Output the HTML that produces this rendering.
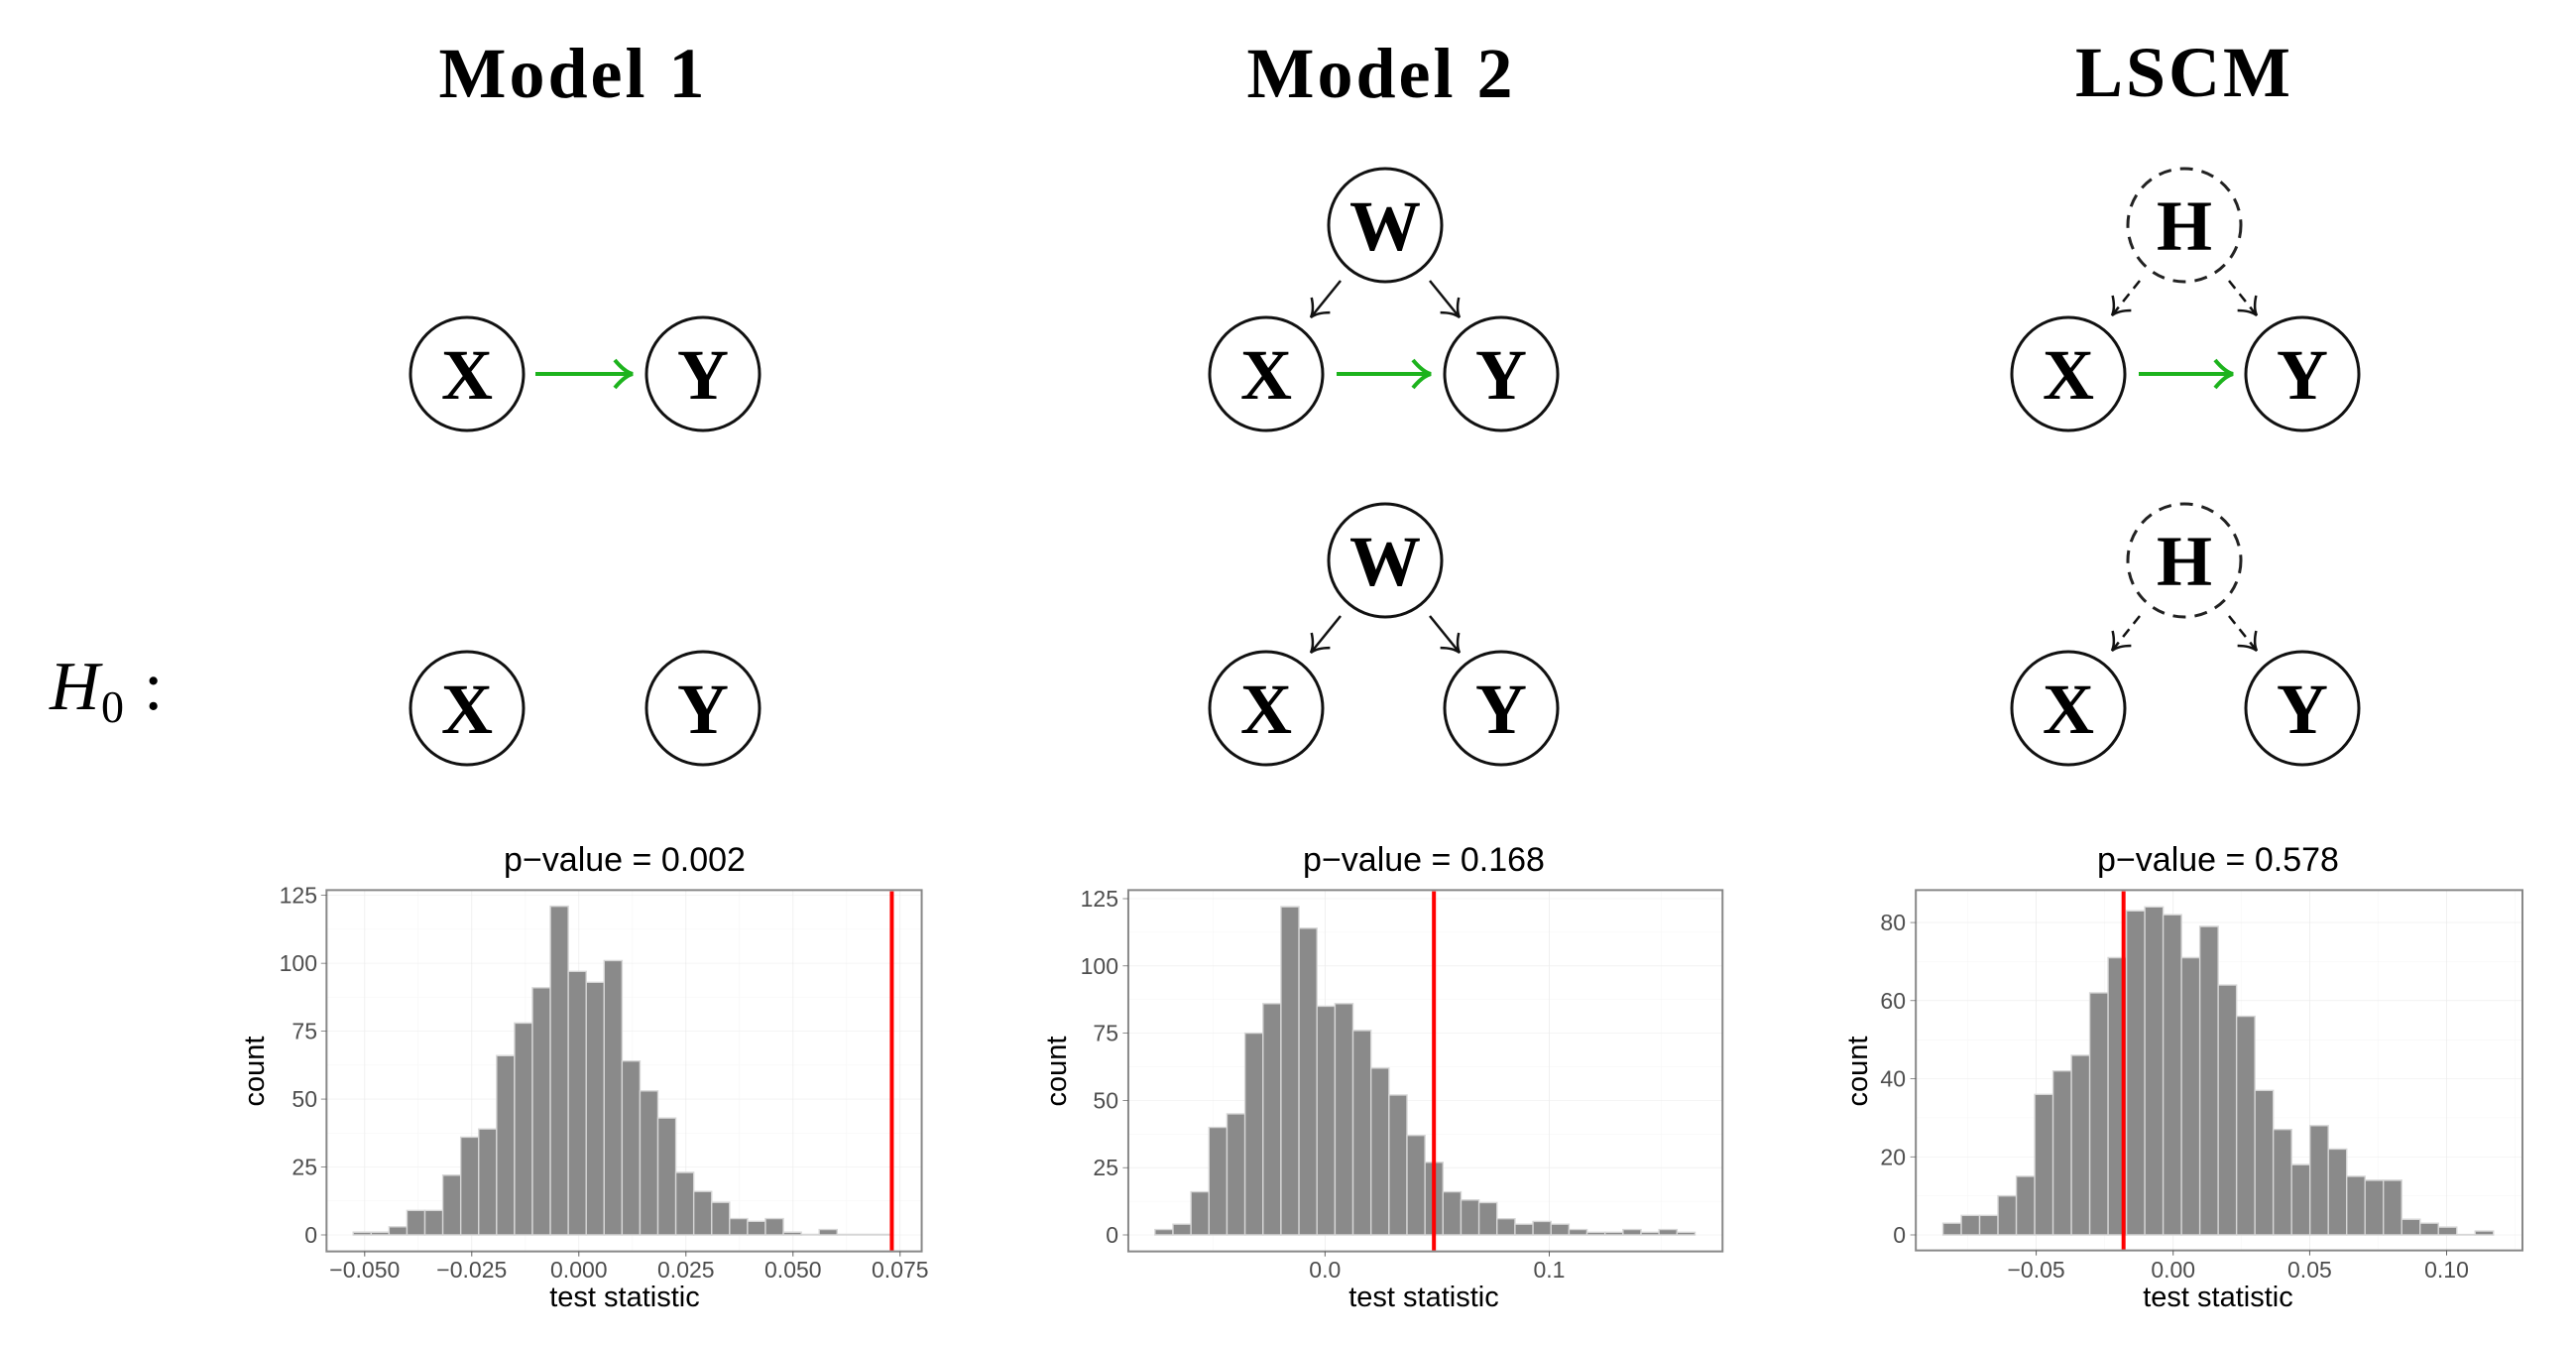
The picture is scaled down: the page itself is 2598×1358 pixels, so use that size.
<!DOCTYPE html>
<html><head><meta charset="utf-8"><style>
html,body{margin:0;padding:0;background:#fff;}
svg{display:block;}
.ttl{font-family:"Liberation Serif",serif;font-weight:bold;font-size:72px;fill:#000;text-anchor:middle;letter-spacing:3px;}
.nd{font-family:"Liberation Serif",serif;font-weight:bold;font-size:72px;fill:#000;text-anchor:middle;}
.pv{font-family:"Liberation Sans",sans-serif;font-size:34px;fill:#000;text-anchor:middle;}
.yt{font-family:"Liberation Sans",sans-serif;font-size:23px;fill:#4d4d4d;text-anchor:end;}
.xt{font-family:"Liberation Sans",sans-serif;font-size:23px;fill:#4d4d4d;text-anchor:middle;}
.ax{font-family:"Liberation Sans",sans-serif;font-size:29px;fill:#000;text-anchor:middle;}
.gM{stroke:#ebebeb;stroke-width:1.6;vector-effect:non-scaling-stroke;}
.gm{stroke:#f2f2f2;stroke-width:1;vector-effect:non-scaling-stroke;}
.bar rect{fill:#8a8a8a;stroke:#d6d6d6;stroke-width:1.4;vector-effect:non-scaling-stroke;}
.pb{fill:none;stroke:#888;stroke-width:2;vector-effect:non-scaling-stroke;}
.tk{stroke:#555;stroke-width:2;vector-effect:non-scaling-stroke;}
.red{stroke:#ff0000;stroke-width:4;vector-effect:non-scaling-stroke;}
</style></head><body>
<svg width="2598" height="1358" viewBox="0 0 2598 1358" xmlns="http://www.w3.org/2000/svg">
<defs>
<marker id="ag" markerUnits="userSpaceOnUse" markerWidth="40" markerHeight="40" refX="20" refY="20" orient="auto">
<path d="M2,6 Q12,18 20,20 Q12,22 2,34" fill="none" stroke="#1db31d" stroke-width="4"/>
</marker>
<marker id="ak" markerUnits="userSpaceOnUse" markerWidth="40" markerHeight="40" refX="20" refY="20" orient="auto">
<path d="M4,8 Q12,18 20,20 Q12,22 4,32" fill="none" stroke="#111" stroke-width="2.5"/>
</marker>
</defs>

<text class="ttl" x="578" y="98">Model 1</text>
<text class="ttl" x="1393" y="98">Model 2</text>
<text class="ttl" x="2203" y="97">LSCM</text>

<text x="50" y="715" font-family="Liberation Serif,serif" font-style="italic" font-size="70">H</text>
<text x="102" y="728" font-family="Liberation Serif,serif" font-size="46">0</text>
<text x="145" y="715" font-family="Liberation Serif,serif" font-size="70">:</text>

<g fill="#fff" stroke="#111" stroke-width="3">
<circle cx="471" cy="377" r="57"/><circle cx="709" cy="377" r="57"/>
<circle cx="471" cy="714" r="57"/><circle cx="709" cy="714" r="57"/>
<circle cx="1397" cy="227" r="57"/><circle cx="1277" cy="377" r="57"/><circle cx="1514" cy="377" r="57"/>
<circle cx="1397" cy="565" r="57"/><circle cx="1277" cy="714" r="57"/><circle cx="1514" cy="714" r="57"/>
<circle cx="2086" cy="377" r="57"/><circle cx="2322" cy="377" r="57"/>
<circle cx="2086" cy="714" r="57"/><circle cx="2322" cy="714" r="57"/>
</g>
<g fill="none" stroke="#222" stroke-width="3" stroke-dasharray="13,9">
<circle cx="2203" cy="227" r="57"/>
<circle cx="2203" cy="565" r="57"/>
</g>

<g stroke="#1db31d" stroke-width="4" fill="none">
<line x1="540" y1="377" x2="638" y2="377" marker-end="url(#ag)"/>
<line x1="1348" y1="377" x2="1443" y2="377" marker-end="url(#ag)"/>
<line x1="2157" y1="377" x2="2252" y2="377" marker-end="url(#ag)"/>
</g>
<g stroke="#111" stroke-width="2.5" fill="none">
<line x1="1352" y1="283" x2="1322" y2="320" marker-end="url(#ak)"/>
<line x1="1442" y1="283" x2="1472" y2="320" marker-end="url(#ak)"/>
<line x1="1352" y1="621" x2="1322" y2="658" marker-end="url(#ak)"/>
<line x1="1442" y1="621" x2="1472" y2="658" marker-end="url(#ak)"/>
</g>
<g stroke="#111" stroke-width="2.5" fill="none" stroke-dasharray="10,7">
<line x1="2158" y1="283" x2="2130" y2="318" marker-end="url(#ak)"/>
<line x1="2248" y1="283" x2="2276" y2="318" marker-end="url(#ak)"/>
<line x1="2158" y1="621" x2="2130" y2="656" marker-end="url(#ak)"/>
<line x1="2248" y1="621" x2="2276" y2="656" marker-end="url(#ak)"/>
</g>
<text class="nd" x="1397" y="252">W</text><text class="nd" x="1397" y="590">W</text>
<text class="nd" x="2203" y="252">H</text><text class="nd" x="2203" y="590">H</text>
<text class="nd" x="471" y="402">X</text><text class="nd" x="709" y="402">Y</text>
<text class="nd" x="471" y="739">X</text><text class="nd" x="709" y="739">Y</text>
<text class="nd" x="1277" y="402">X</text><text class="nd" x="1514" y="402">Y</text>
<text class="nd" x="1277" y="739">X</text><text class="nd" x="1514" y="739">Y</text>
<text class="nd" x="2086" y="402">X</text><text class="nd" x="2322" y="402">Y</text>
<text class="nd" x="2086" y="739">X</text><text class="nd" x="2322" y="739">Y</text>

<!-- Plot 1 -->
<g transform="translate(232,840) scale(0.4635,0.33333)">
<rect x="210" y="172" width="1295" height="1093" fill="#fff"/>
<g class="gm">
<line x1="409.5" y1="172" x2="409.5" y2="1265"/><line x1="642.5" y1="172" x2="642.5" y2="1265"/><line x1="875.5" y1="172" x2="875.5" y2="1265"/><line x1="1108.5" y1="172" x2="1108.5" y2="1265"/><line x1="1341.5" y1="172" x2="1341.5" y2="1265"/>
<line x1="210" y1="1112.3" x2="1505" y2="1112.3"/><line x1="210" y1="906.9" x2="1505" y2="906.9"/><line x1="210" y1="701.5" x2="1505" y2="701.5"/><line x1="210" y1="496.1" x2="1505" y2="496.1"/><line x1="210" y1="290.7" x2="1505" y2="290.7"/>
</g>
<g class="gM">
<line x1="293" y1="172" x2="293" y2="1265"/><line x1="526" y1="172" x2="526" y2="1265"/><line x1="759" y1="172" x2="759" y2="1265"/><line x1="992" y1="172" x2="992" y2="1265"/><line x1="1225" y1="172" x2="1225" y2="1265"/><line x1="1458" y1="172" x2="1458" y2="1265"/>
<line x1="210" y1="1215" x2="1505" y2="1215"/><line x1="210" y1="1009.6" x2="1505" y2="1009.6"/><line x1="210" y1="804.2" x2="1505" y2="804.2"/><line x1="210" y1="598.8" x2="1505" y2="598.8"/><line x1="210" y1="393.4" x2="1505" y2="393.4"/><line x1="210" y1="188" x2="1505" y2="188"/>
</g>
<g class="bar" transform="translate(268,1215) scale(39,-8.216)">
<rect x="0" y="0" width="1" height="1"/><rect x="1" y="0" width="1" height="1"/><rect x="2" y="0" width="1" height="3"/><rect x="3" y="0" width="1" height="9"/><rect x="4" y="0" width="1" height="9"/><rect x="5" y="0" width="1" height="22"/><rect x="6" y="0" width="1" height="36"/><rect x="7" y="0" width="1" height="39"/><rect x="8" y="0" width="1" height="66"/><rect x="9" y="0" width="1" height="78"/><rect x="10" y="0" width="1" height="91"/><rect x="11" y="0" width="1" height="121"/><rect x="12" y="0" width="1" height="97"/><rect x="13" y="0" width="1" height="93"/><rect x="14" y="0" width="1" height="101"/><rect x="15" y="0" width="1" height="64"/><rect x="16" y="0" width="1" height="53"/><rect x="17" y="0" width="1" height="43"/><rect x="18" y="0" width="1" height="23"/><rect x="19" y="0" width="1" height="16"/><rect x="20" y="0" width="1" height="12"/><rect x="21" y="0" width="1" height="6"/><rect x="22" y="0" width="1" height="5"/><rect x="23" y="0" width="1" height="6"/><rect x="24" y="0" width="1" height="1"/><rect x="25" y="0" width="1" height="0.2"/><rect x="26" y="0" width="1" height="2"/><rect x="27" y="0" width="3" height="0.2"/>
</g>
<line class="red" x1="1440" y1="176" x2="1440" y2="1262"/>
<rect class="pb" x="210" y="172" width="1295" height="1093"/>
<g class="tk">
<line x1="198" y1="1215" x2="210" y2="1215"/><line x1="198" y1="1009.6" x2="210" y2="1009.6"/><line x1="198" y1="804.2" x2="210" y2="804.2"/><line x1="198" y1="598.8" x2="210" y2="598.8"/><line x1="198" y1="393.4" x2="210" y2="393.4"/><line x1="198" y1="188" x2="210" y2="188"/>
<line x1="293" y1="1265" x2="293" y2="1280"/><line x1="526" y1="1265" x2="526" y2="1280"/><line x1="759" y1="1265" x2="759" y2="1280"/><line x1="992" y1="1265" x2="992" y2="1280"/><line x1="1225" y1="1265" x2="1225" y2="1280"/><line x1="1458" y1="1265" x2="1458" y2="1280"/>
</g>
</g>
<text class="pv" x="630" y="878">p−value = 0.002</text>
<text class="yt" x="320" y="1253">0</text><text class="yt" x="320" y="1184.5">25</text><text class="yt" x="320" y="1116">50</text><text class="yt" x="320" y="1047.6">75</text><text class="yt" x="320" y="979">100</text><text class="yt" x="320" y="910.7">125</text>
<text class="xt" x="367.8" y="1288">−0.050</text><text class="xt" x="475.8" y="1288">−0.025</text><text class="xt" x="583.8" y="1288">0.000</text><text class="xt" x="691.8" y="1288">0.025</text><text class="xt" x="799.8" y="1288">0.050</text><text class="xt" x="907.8" y="1288">0.075</text>
<text class="ax" x="630" y="1317">test statistic</text>
<text class="ax" transform="translate(266,1080) rotate(-90)">count</text>

<!-- Plot 2 -->
<g transform="translate(1042,840) scale(0.4635,0.33333)">
<rect x="207" y="172" width="1293" height="1093" fill="#fff"/>
<g class="gm">
<line x1="391" y1="172" x2="391" y2="1265"/><line x1="879" y1="172" x2="879" y2="1265"/><line x1="1367" y1="172" x2="1367" y2="1265"/>
<line x1="207" y1="1113.3" x2="1500" y2="1113.3"/><line x1="207" y1="909.9" x2="1500" y2="909.9"/><line x1="207" y1="706.5" x2="1500" y2="706.5"/><line x1="207" y1="503.1" x2="1500" y2="503.1"/><line x1="207" y1="299.7" x2="1500" y2="299.7"/>
</g>
<g class="gM">
<line x1="635" y1="172" x2="635" y2="1265"/><line x1="1123" y1="172" x2="1123" y2="1265"/>
<line x1="207" y1="1215" x2="1500" y2="1215"/><line x1="207" y1="1011.6" x2="1500" y2="1011.6"/><line x1="207" y1="808.2" x2="1500" y2="808.2"/><line x1="207" y1="604.8" x2="1500" y2="604.8"/><line x1="207" y1="401.4" x2="1500" y2="401.4"/><line x1="207" y1="198" x2="1500" y2="198"/>
</g>
<g class="bar" transform="translate(265,1215) scale(39.17,-8.136)">
<rect x="0" y="0" width="1" height="2"/><rect x="1" y="0" width="1" height="4"/><rect x="2" y="0" width="1" height="16"/><rect x="3" y="0" width="1" height="40"/><rect x="4" y="0" width="1" height="45"/><rect x="5" y="0" width="1" height="75"/><rect x="6" y="0" width="1" height="86"/><rect x="7" y="0" width="1" height="122"/><rect x="8" y="0" width="1" height="114"/><rect x="9" y="0" width="1" height="85"/><rect x="10" y="0" width="1" height="86"/><rect x="11" y="0" width="1" height="76"/><rect x="12" y="0" width="1" height="62"/><rect x="13" y="0" width="1" height="52"/><rect x="14" y="0" width="1" height="37"/><rect x="15" y="0" width="1" height="27"/><rect x="16" y="0" width="1" height="16"/><rect x="17" y="0" width="1" height="13"/><rect x="18" y="0" width="1" height="12"/><rect x="19" y="0" width="1" height="6"/><rect x="20" y="0" width="1" height="4"/><rect x="21" y="0" width="1" height="5"/><rect x="22" y="0" width="1" height="4"/><rect x="23" y="0" width="1" height="2"/><rect x="24" y="0" width="1" height="1"/><rect x="25" y="0" width="1" height="1"/><rect x="26" y="0" width="1" height="2"/><rect x="27" y="0" width="1" height="1"/><rect x="28" y="0" width="1" height="2"/><rect x="29" y="0" width="1" height="1"/>
</g>
<line class="red" x1="872" y1="176" x2="872" y2="1262"/>
<rect class="pb" x="207" y="172" width="1293" height="1093"/>
<g class="tk">
<line x1="195" y1="1215" x2="207" y2="1215"/><line x1="195" y1="1011.6" x2="207" y2="1011.6"/><line x1="195" y1="808.2" x2="207" y2="808.2"/><line x1="195" y1="604.8" x2="207" y2="604.8"/><line x1="195" y1="401.4" x2="207" y2="401.4"/><line x1="195" y1="198" x2="207" y2="198"/>
<line x1="635" y1="1265" x2="635" y2="1280"/><line x1="1123" y1="1265" x2="1123" y2="1280"/>
</g>
</g>
<text class="pv" x="1436" y="878">p−value = 0.168</text>
<text class="yt" x="1128" y="1253">0</text><text class="yt" x="1128" y="1185">25</text><text class="yt" x="1128" y="1117.4">50</text><text class="yt" x="1128" y="1049.6">75</text><text class="yt" x="1128" y="981.8">100</text><text class="yt" x="1128" y="914">125</text>
<text class="xt" x="1336.3" y="1288">0.0</text><text class="xt" x="1562.5" y="1288">0.1</text>
<text class="ax" x="1436" y="1317">test statistic</text>
<text class="ax" transform="translate(1075,1080) rotate(-90)">count</text>

<!-- Plot 3 -->
<g transform="translate(1852,840) scale(0.4635,0.33333)">
<rect x="173" y="172" width="1320" height="1090" fill="#fff"/>
<g class="gm">
<line x1="286" y1="172" x2="286" y2="1262"/><line x1="584" y1="172" x2="584" y2="1262"/><line x1="881" y1="172" x2="881" y2="1262"/><line x1="1179" y1="172" x2="1179" y2="1262"/><line x1="1477" y1="172" x2="1477" y2="1262"/>
<line x1="173" y1="1096.9" x2="1493" y2="1096.9"/><line x1="173" y1="860.7" x2="1493" y2="860.7"/><line x1="173" y1="624.5" x2="1493" y2="624.5"/><line x1="173" y1="388.3" x2="1493" y2="388.3"/>
</g>
<g class="gM">
<line x1="435" y1="172" x2="435" y2="1262"/><line x1="733" y1="172" x2="733" y2="1262"/><line x1="1030" y1="172" x2="1030" y2="1262"/><line x1="1328" y1="172" x2="1328" y2="1262"/>
<line x1="173" y1="1215" x2="1493" y2="1215"/><line x1="173" y1="978.8" x2="1493" y2="978.8"/><line x1="173" y1="742.6" x2="1493" y2="742.6"/><line x1="173" y1="506.4" x2="1493" y2="506.4"/><line x1="173" y1="270.2" x2="1493" y2="270.2"/>
</g>
<g class="bar" transform="translate(232,1215) scale(39.93,-11.81)">
<rect x="0" y="0" width="1" height="3"/><rect x="1" y="0" width="1" height="5"/><rect x="2" y="0" width="1" height="5"/><rect x="3" y="0" width="1" height="10"/><rect x="4" y="0" width="1" height="15"/><rect x="5" y="0" width="1" height="36"/><rect x="6" y="0" width="1" height="42"/><rect x="7" y="0" width="1" height="46"/><rect x="8" y="0" width="1" height="62"/><rect x="9" y="0" width="1" height="71"/><rect x="10" y="0" width="1" height="83"/><rect x="11" y="0" width="1" height="84"/><rect x="12" y="0" width="1" height="82"/><rect x="13" y="0" width="1" height="71"/><rect x="14" y="0" width="1" height="79"/><rect x="15" y="0" width="1" height="64"/><rect x="16" y="0" width="1" height="56"/><rect x="17" y="0" width="1" height="37"/><rect x="18" y="0" width="1" height="27"/><rect x="19" y="0" width="1" height="18"/><rect x="20" y="0" width="1" height="28"/><rect x="21" y="0" width="1" height="22"/><rect x="22" y="0" width="1" height="15"/><rect x="23" y="0" width="1" height="14"/><rect x="24" y="0" width="1" height="14"/><rect x="25" y="0" width="1" height="4"/><rect x="26" y="0" width="1" height="3"/><rect x="27" y="0" width="1" height="2"/><rect x="28" y="0" width="1" height="0.1"/><rect x="29" y="0" width="1" height="1"/>
</g>
<line class="red" x1="625" y1="176" x2="625" y2="1259"/>
<rect class="pb" x="173" y="172" width="1320" height="1090"/>
<g class="tk">
<line x1="161" y1="1215" x2="173" y2="1215"/><line x1="161" y1="978.8" x2="173" y2="978.8"/><line x1="161" y1="742.6" x2="173" y2="742.6"/><line x1="161" y1="506.4" x2="173" y2="506.4"/><line x1="161" y1="270.2" x2="173" y2="270.2"/>
<line x1="435" y1="1262" x2="435" y2="1277"/><line x1="733" y1="1262" x2="733" y2="1277"/><line x1="1030" y1="1262" x2="1030" y2="1277"/><line x1="1328" y1="1262" x2="1328" y2="1277"/>
</g>
</g>
<text class="pv" x="2237" y="878">p−value = 0.578</text>
<text class="yt" x="1922" y="1253">0</text><text class="yt" x="1922" y="1174.3">20</text><text class="yt" x="1922" y="1095.5">40</text><text class="yt" x="1922" y="1016.8">60</text><text class="yt" x="1922" y="938.1">80</text>
<text class="xt" x="2053.6" y="1288">−0.05</text><text class="xt" x="2191.7" y="1288">0.00</text><text class="xt" x="2329.4" y="1288">0.05</text><text class="xt" x="2467.5" y="1288">0.10</text>
<text class="ax" x="2237" y="1317">test statistic</text>
<text class="ax" transform="translate(1883,1080) rotate(-90)">count</text>
</svg>
</body></html>
